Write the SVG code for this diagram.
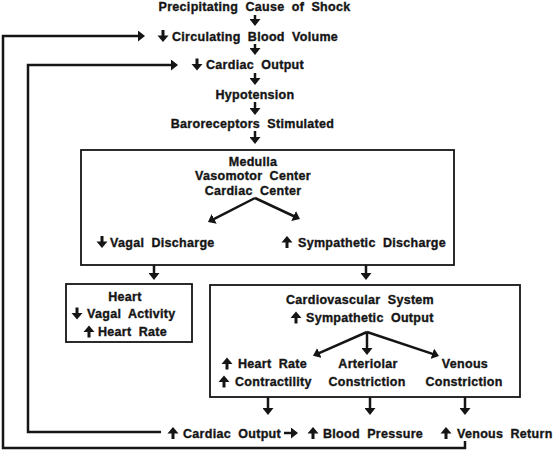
<svg xmlns="http://www.w3.org/2000/svg" width="553" height="451" viewBox="0 0 553 451">
<style>
.t{font-family:"Liberation Sans",Arial,Helvetica,sans-serif;font-weight:bold;font-size:12.5px;letter-spacing:0.3px;word-spacing:3.5px;fill:#151515;stroke:#151515;stroke-width:0.35px}
.m{text-anchor:middle}
.box{fill:none;stroke:#151515;stroke-width:1.8}
.c{fill:none;stroke:#151515;stroke-width:2.5}
.ic{fill:#151515}
</style>
<defs>
<marker id="ah" viewBox="0 0 7 11" refX="1" refY="5.5" markerWidth="7" markerHeight="11" markerUnits="userSpaceOnUse" orient="auto">
<path d="M0,0 L7,5.5 L0,11 Z" fill="#151515"/>
</marker>
<g id="dn" class="ic"><rect x="-1.5" y="-6" width="3" height="6"/><path d="M-5.5,-0.5 L5.5,-0.5 L0,6 Z"/></g>
<g id="up" class="ic"><rect x="-1.5" y="0" width="3" height="6"/><path d="M-5.5,0.5 L5.5,0.5 L0,-6 Z"/></g>
</defs>
<rect width="553" height="451" fill="#ffffff"/>

<g id="connectors">
<line class="c" x1="255" y1="15" x2="255" y2="20" marker-end="url(#ah)"/>
<line class="c" x1="255" y1="44" x2="255" y2="49" marker-end="url(#ah)"/>
<line class="c" x1="255" y1="73" x2="255" y2="79" marker-end="url(#ah)"/>
<line class="c" x1="255" y1="102" x2="255" y2="109" marker-end="url(#ah)"/>
<line class="c" x1="255" y1="131" x2="255" y2="138" marker-end="url(#ah)"/>
<line class="c" x1="255" y1="198" x2="213.3" y2="219.3" marker-end="url(#ah)"/>
<line class="c" x1="255" y1="198" x2="294.5" y2="216.5" marker-end="url(#ah)"/>
<line class="c" x1="154" y1="265" x2="154" y2="274" marker-end="url(#ah)"/>
<line class="c" x1="366" y1="265" x2="366" y2="274" marker-end="url(#ah)"/>
<line class="c" x1="367" y1="332" x2="318.5" y2="353.4" marker-end="url(#ah)"/>
<line class="c" x1="367" y1="332" x2="367" y2="349" marker-end="url(#ah)"/>
<line class="c" x1="367" y1="332" x2="433.3" y2="354.1" marker-end="url(#ah)"/>
<line class="c" x1="268" y1="397" x2="268" y2="409" marker-end="url(#ah)"/>
<line class="c" x1="370" y1="397" x2="370" y2="409" marker-end="url(#ah)"/>
<line class="c" x1="465" y1="397" x2="465" y2="409" marker-end="url(#ah)"/>
<line class="c" x1="284" y1="433" x2="292" y2="433" marker-end="url(#ah)"/>
<polyline class="c" points="465,441 465,448 3,448 3,36 139,36" marker-end="url(#ah)"/>
<polyline class="c" points="161,432 28,432 28,65 172,65" marker-end="url(#ah)"/>
</g>

<g id="n-cause"><text class="t m" x="254.5" y="11">Precipitating Cause of Shock</text></g>
<g id="n-cbv"><use href="#dn" x="163" y="36"/><text class="t" x="172" y="40.5">Circulating Blood Volume</text></g>
<g id="n-co"><use href="#dn" x="197" y="64.5"/><text class="t" x="206" y="69">Cardiac Output</text></g>
<g id="n-hypo"><text class="t m" x="255" y="98.5">Hypotension</text></g>
<g id="n-baro"><text class="t m" x="252.5" y="127.5">Baroreceptors Stimulated</text></g>

<g id="n-medulla">
<rect class="box" x="81" y="150" width="373" height="115"/>
<text class="t m" x="253" y="165.5">Medulla</text>
<text class="t m" x="253" y="179.5">Vasomotor Center</text>
<text class="t m" x="253" y="194.5">Cardiac Center</text>
</g>
<g id="n-vagal"><use href="#dn" x="102" y="242"/><text class="t" x="110" y="246.5">Vagal Discharge</text></g>
<g id="n-symp"><use href="#up" x="287" y="242"/><text class="t" x="298" y="246.5">Sympathetic Discharge</text></g>

<g id="n-heart">
<rect class="box" x="66" y="284" width="126" height="58"/>
<text class="t m" x="125" y="301">Heart</text>
<use href="#dn" x="77" y="313.5"/><text class="t" x="87" y="318">Vagal Activity</text>
<use href="#up" x="89" y="331.5"/><text class="t" x="98" y="336">Heart Rate</text>
</g>

<g id="n-cv">
<rect class="box" x="210" y="285" width="310" height="112"/>
<text class="t m" x="360" y="304">Cardiovascular System</text>
<use href="#up" x="296" y="317.5"/><text class="t" x="306" y="322">Sympathetic Output</text>
</g>
<g id="n-hrc">
<use href="#up" x="227" y="363.5"/><text class="t" x="238" y="368">Heart Rate</text>
<use href="#up" x="224" y="381.5"/><text class="t" x="235" y="386">Contractility</text>
</g>
<g id="n-art"><text class="t m" x="368" y="368">Arteriolar</text><text class="t m" x="367" y="386">Constriction</text></g>
<g id="n-ven"><text class="t m" x="465" y="368">Venous</text><text class="t m" x="464" y="386">Constriction</text></g>

<g id="n-co2"><use href="#up" x="173" y="433"/><text class="t" x="183" y="437.5">Cardiac Output</text></g>
<g id="n-bp"><use href="#up" x="313" y="433"/><text class="t" x="323" y="437.5">Blood Pressure</text></g>
<g id="n-vr"><use href="#up" x="446" y="433"/><text class="t" x="457" y="437.5">Venous Return</text></g>
</svg>
